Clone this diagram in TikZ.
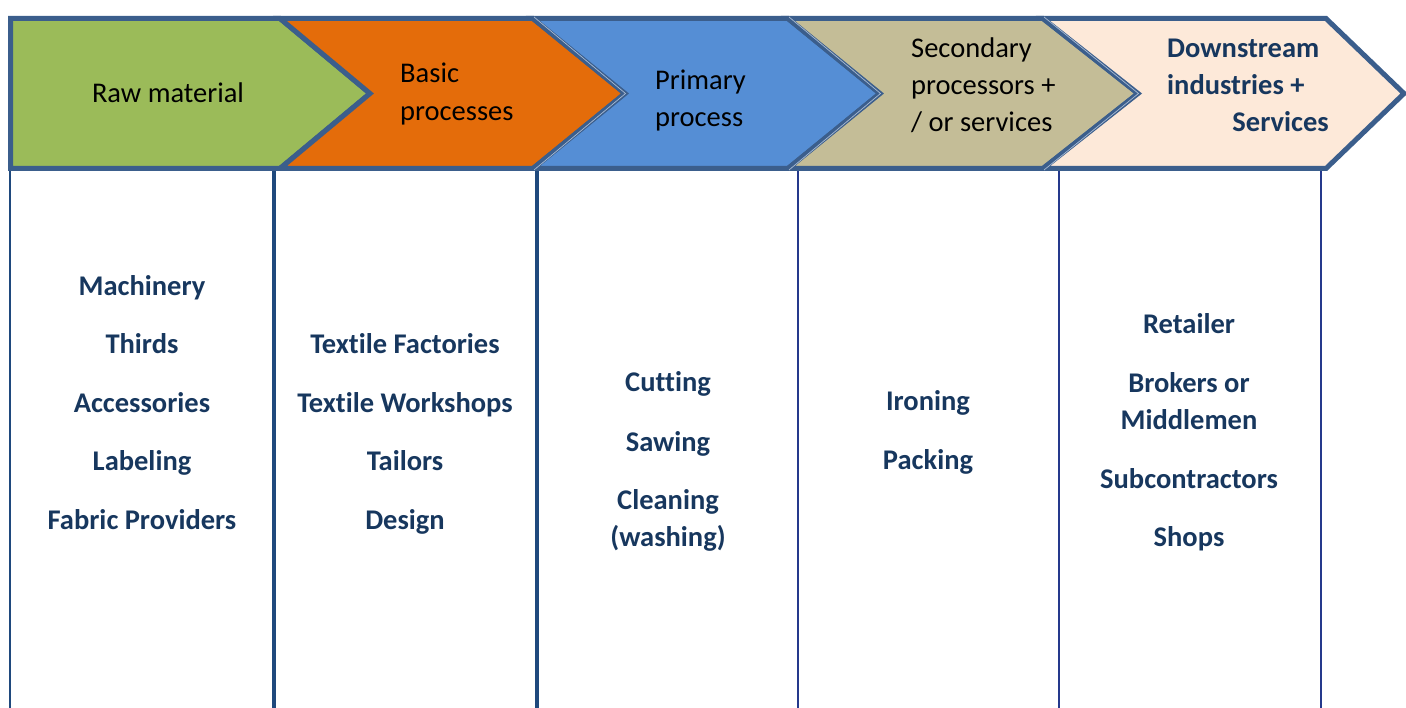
\documentclass[tikz,border=0pt]{standalone}
\usepackage{fontspec}
\setmainfont{Carlito}[Ligatures=CommonOff]
\definecolor{cgreen}{HTML}{9BBB59}
\definecolor{corange}{HTML}{E46C0A}
\definecolor{cblue}{HTML}{558ED5}
\definecolor{ctan}{HTML}{C4BD97}
\definecolor{cpeach}{HTML}{FDE9D9}
\definecolor{cborder}{HTML}{3B5E8C}
\definecolor{cnavy}{HTML}{17375E}
\definecolor{cline}{HTML}{1F497D}
\definecolor{cline2}{HTML}{25398C}
\definecolor{cglint}{HTML}{A9BBD3}
\tikzset{
  chev/.style={draw=cborder, line width=5pt, line join=miter, miter limit=10},
  glint/.style={draw=cglint, line width=0.7pt},
  hdr/.style={inner sep=0pt, font=\fontsize{28.5}{34}\selectfont, text=black},
  hdrb/.style={inner sep=0pt, font=\fontsize{28.5}{34}\selectfont\bfseries, text=cnavy},
  item/.style={inner sep=0pt, anchor=base, font=\fontsize{28.5}{34}\selectfont\bfseries, text=cnavy},
  colA/.style={draw=cline, line width=3.2pt},
  colB/.style={draw=cline2, line width=2pt}
}
\begin{document}
\begin{tikzpicture}[x=1pt,y=-1pt]
\useasboundingbox (0,0) rectangle (1406,708);
\clip (0,0) rectangle (1406,708);
% column lines
\coordinate (l1t) at (10,170);  \coordinate (l1b) at (10,708);
\coordinate (l2t) at (274,170); \coordinate (l2b) at (274,708);
\coordinate (l3t) at (537,170); \coordinate (l3b) at (537,708);
\coordinate (l4t) at (798,170); \coordinate (l4b) at (798,708);
\coordinate (l5t) at (1059,170); \coordinate (l5b) at (1059,708);
\coordinate (l6t) at (1321,170); \coordinate (l6b) at (1321,708);
\draw[colA, line width=2.2pt] (l1t) -- (l1b);
\draw[colA] (l2t) -- (l2b);
\draw[colA] (l3t) -- (l3b);
\draw[colB] (l4t) -- (l4b);
\draw[colB] (l5t) -- (l5b);
\draw[colB] (l6t) -- (l6b);
% chevrons
\path[chev, fill=cgreen] (10.5,18.5) -- (280,18.5) -- (370,93.5) -- (280,168.5) -- (10.5,168.5) -- cycle;
\path[chev, fill=corange] (280,18.5) -- (533,18.5) -- (625,93.5) -- (533,168.5) -- (280,168.5) -- (370,93.5) -- cycle;
\path[chev, fill=cblue] (533,18.5) -- (788,18.5) -- (880,93.5) -- (788,168.5) -- (533,168.5) -- (625,93.5) -- cycle;
\path[chev, fill=ctan] (788,18.5) -- (1043,18.5) -- (1138,93.5) -- (1043,168.5) -- (788,168.5) -- (880,93.5) -- cycle;
\path[chev, fill=cpeach] (1043,18.5) -- (1326,18.5) -- (1404,93.5) -- (1326,168.5) -- (1043,168.5) -- (1138,93.5) -- cycle;
% glints on shared edges
\draw[glint] (534,17) -- (625.5,93.5) -- (534,170);
\draw[glint] (789,17) -- (880.5,93.5) -- (789,170);
\draw[glint] (1044,17) -- (1138.5,93.5) -- (1044,170);
% header texts
\node[hdr, anchor=base] (h1) at (168,103) {Raw material};
\node[hdr, anchor=base west] (h2a) at (400,83) {Basic};
\node[hdr, anchor=base west] (h2b) at (400,121) {processes};
\node[hdr, anchor=base west] (h3a) at (655,90) {Primary};
\node[hdr, anchor=base west] (h3b) at (655,127) {process};
\node[hdr, anchor=base west] (h4a) at (911,58) {Secondary};
\node[hdr, anchor=base west] (h4b) at (911,95) {processors +};
\node[hdr, anchor=base west] (h4c) at (911,132) {/ or services};
\node[hdrb, anchor=base west] (h5a) at (1167,58) {Downstream};
\node[hdrb, anchor=base west] (h5b) at (1167,95) {industries +};
\node[hdrb, anchor=base east] (h5c) at (1329,132) {Services};
% column 1
\node[item] (a1) at (142,296) {Machinery};
\node[item] (a2) at (142,354) {Thirds};
\node[item] (a3) at (142,413) {Accessories};
\node[item] (a4) at (142,471) {Labeling};
\node[item] (a5) at (142,529) {Fabric Providers};
% column 2
\node[item] (b1) at (405,354) {Textile Factories};
\node[item] (b2) at (405,413) {Textile Workshops};
\node[item] (b3) at (405,471) {Tailors};
\node[item] (b4) at (405,529) {Design};
% column 3
\node[item] (c1) at (668,392) {Cutting};
\node[item] (c2) at (668,451) {Sawing};
\node[item] (c3) at (668,509) {Cleaning};
\node[item] (c4) at (668,546) {(washing)};
% column 4
\node[item] (d1) at (928,411) {Ironing};
\node[item] (d2) at (928,469) {Packing};
% column 5
\node[item] (e1) at (1189,334) {Retailer};
\node[item] (e2) at (1189,393) {Brokers or};
\node[item] (e3) at (1189,430) {Middlemen};
\node[item] (e4) at (1189,488) {Subcontractors};
\node[item] (e5) at (1189,546) {Shops};
\end{tikzpicture}
\end{document}
